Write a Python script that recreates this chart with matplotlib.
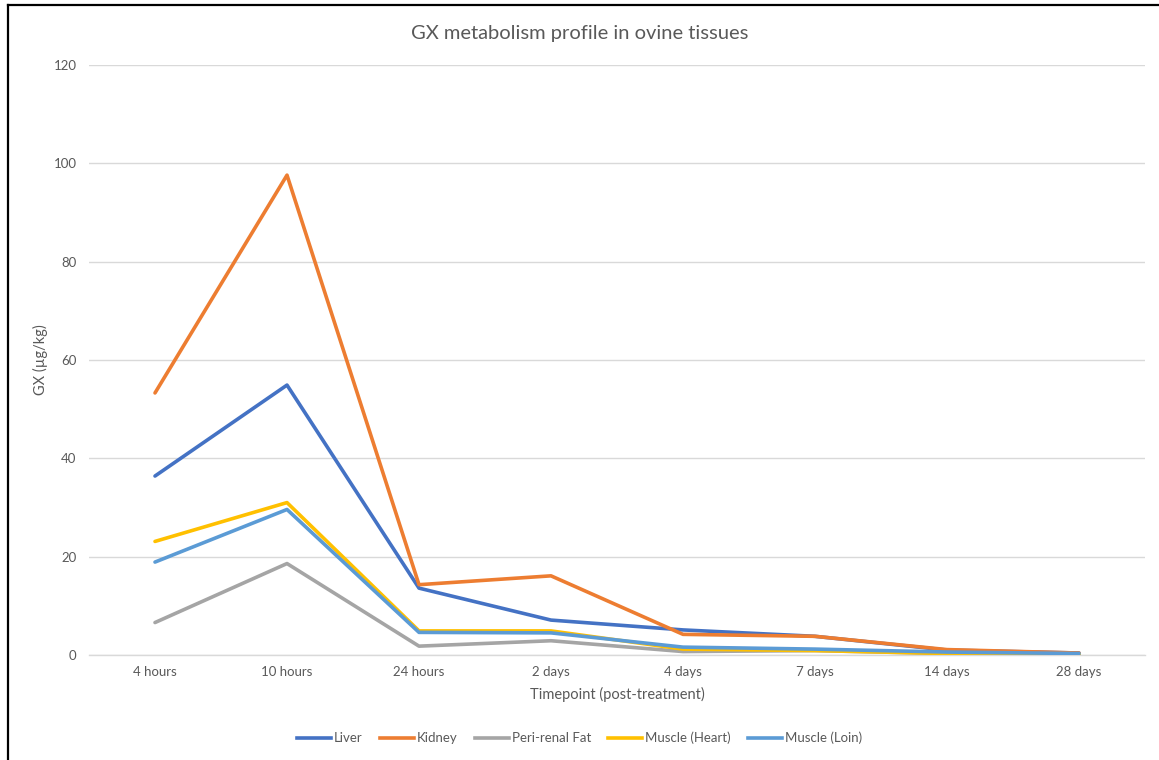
import matplotlib
matplotlib.use("Agg")
import matplotlib.pyplot as plt
from matplotlib.lines import Line2D

plt.rcParams['font.family'] = ['Lato', 'DejaVu Sans']

timepoints = ["4 hours", "10 hours", "24 hours", "2 days", "4 days", "7 days", "14 days", "28 days"]
liver = [36.4, 54.9, 13.6, 7.1, 5.1, 3.8, 1.0, 0.4]
kidney = [53.3, 97.6, 14.3, 16.1, 4.2, 3.8, 1.1, 0.4]
fat = [6.6, 18.6, 1.8, 2.9, 0.7, 0.9, 0.3, 0.2]
heart = [23.1, 31.0, 4.9, 4.9, 1.2, 0.9, 0.3, 0.2]
loin = [18.9, 29.6, 4.6, 4.5, 1.6, 1.2, 0.6, 0.3]

series = [
    ("Liver", liver, "#4472C4"),
    ("Kidney", kidney, "#ED7D31"),
    ("Peri-renal Fat", fat, "#A5A5A5"),
    ("Muscle (Heart)", heart, "#FFC000"),
    ("Muscle (Loin)", loin, "#5B9BD5"),
]

W, H = 1159, 760
fig = plt.figure(figsize=(W / 100, H / 100), dpi=100)
ax = fig.add_axes([89 / W, 1 - 655 / H, (1145 - 89) / W, (655 - 65) / H])

text_color = "#595959"
x = list(range(len(timepoints)))
for name, vals, col in series:
    ax.plot(x, vals, color=col, lw=2.6, label=name, solid_capstyle="round",
            solid_joinstyle="round", zorder=3)

ax.set_xlim(-0.5, len(timepoints) - 0.5)
ax.set_ylim(0, 120)
ax.set_yticks(range(0, 121, 20))
ax.set_xticks(x)
ax.set_xticklabels(timepoints)
ax.grid(axis="y", color="#D9D9D9", lw=1)
ax.set_axisbelow(True)
for s in ["top", "right", "left"]:
    ax.spines[s].set_visible(False)
ax.spines["bottom"].set_color("#D9D9D9")
ax.spines["bottom"].set_linewidth(1)
ax.tick_params(axis="both", length=0, colors=text_color, labelsize=9.5)
ax.tick_params(axis="y", pad=9)
ax.tick_params(axis="x", pad=8)

ax.set_xlabel("Timepoint (post-treatment)", color=text_color, fontsize=10.5, labelpad=6)
ax.set_ylabel("GX (µg/kg)", color=text_color, fontsize=10.5)
ax.yaxis.set_label_coords((48 - 89) / (1145 - 89), 0.5)
fig.text(0.5, 1 - 33 / H, "GX metabolism profile in ovine tissues", ha="center", va="center",
         color=text_color, fontsize=14.5)

handles = [Line2D([0], [0], color=c, lw=2.6) for _, _, c in series]
fig.legend(handles, [n for n, _, _ in series], loc="center", bbox_to_anchor=(0.5, 1 - 738 / H),
           ncol=5, frameon=False, fontsize=9.5, labelcolor=text_color, handlelength=2.6,
           handletextpad=0.2, columnspacing=1.3)

# chart frame edges
fig.add_artist(Line2D([8 / W, 8 / W], [0, 1 - 5 / H], color="black", lw=1.6, transform=fig.transFigure))
fig.add_artist(Line2D([8 / W, 1], [1 - 5 / H, 1 - 5 / H], color="black", lw=1.6, transform=fig.transFigure))

fig.savefig("out.png", dpi=100, facecolor="white")
